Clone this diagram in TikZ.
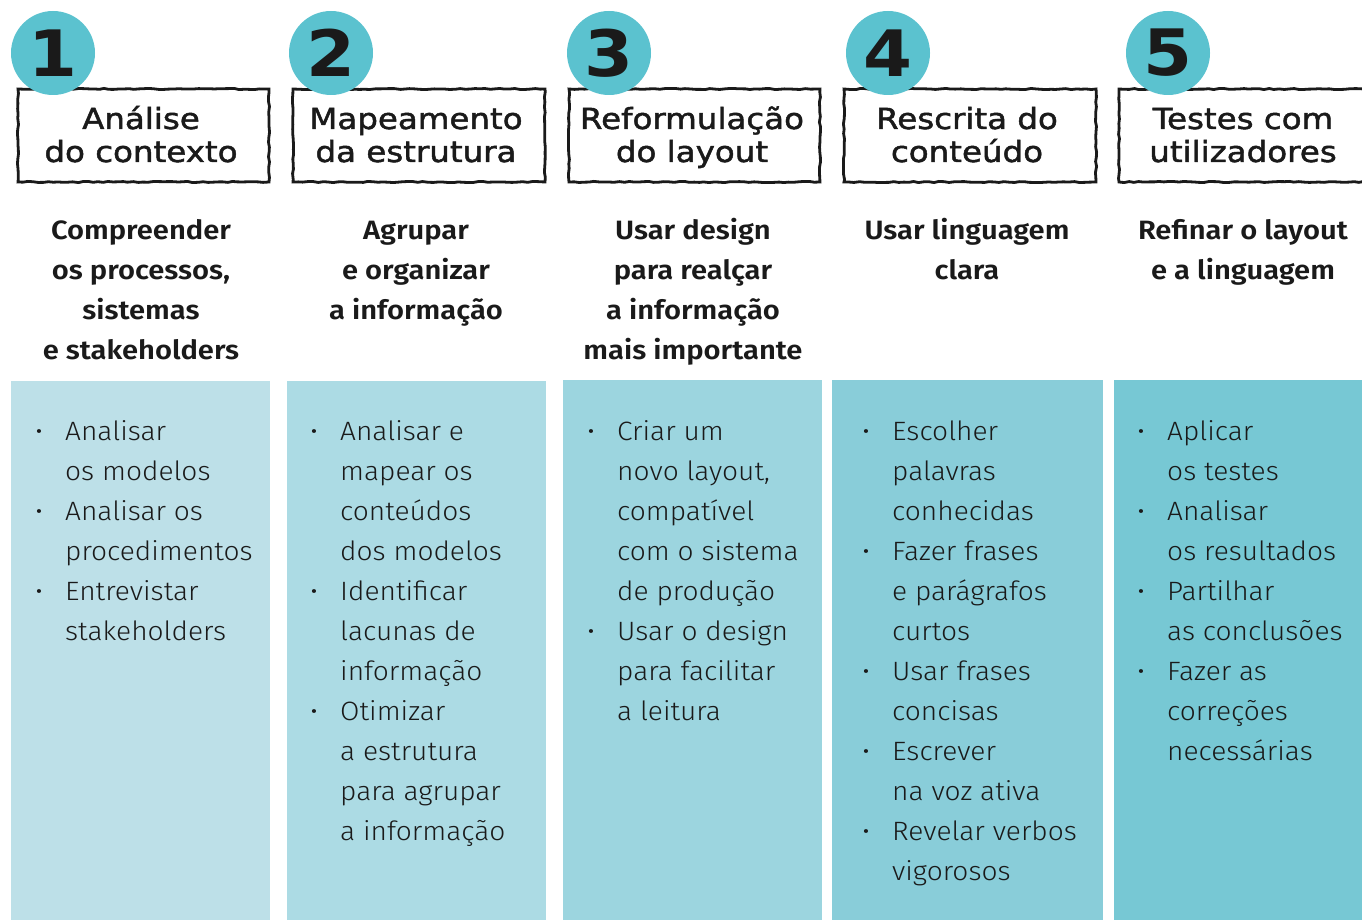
\documentclass[tikz,border=0pt]{standalone}
\usepackage{fontspec}
\usetikzlibrary{decorations.pathmorphing}
\IfFontExistsTF{Fira Sans Light}{\newfontfamily\bodyfont[FakeStretch=1.06]{Fira Sans Light}}{\newfontfamily\bodyfont[FakeStretch=1.06]{Fira Sans}}
\IfFontExistsTF{Fira Sans SemiBold}{\newfontfamily\subfont[FakeStretch=1.1]{Fira Sans SemiBold}}{\newfontfamily\subfontX[FakeStretch=1.1]{Fira Sans}\def\subfont{\subfontX\bfseries}}
\newfontfamily\titlefont[FakeStretch=1.12,FakeBold=1.6]{DejaVu Sans}
\newfontfamily\numfont[FakeStretch=1.1]{DejaVu Sans Bold}
\definecolor{cA}{HTML}{BDE0E8}
\definecolor{cB}{HTML}{ACDBE4}
\definecolor{cC}{HTML}{9CD5DF}
\definecolor{cD}{HTML}{89CDD9}
\definecolor{cE}{HTML}{77C8D4}
\definecolor{circ}{HTML}{5BC2CF}
\definecolor{ink}{HTML}{1A1A1A}
\newcommand\ttlline[4]{\node[titleline] (#1) at (#2,#3) {#4};}
\newcommand\subln[4]{\node[subline] (#1) at (#2,{239+40*#3}) {#4};}
\newcommand\bdyln[4]{\node[bodyline] (#1) at (#2,{440+40*#3}) {#4};}
\newcommand\bdybl[4]{\node[dotline] (#1d) at ({#2-26},{440+40*#3}) {\textbullet};\bdyln{#1}{#2}{#3}{#4}}
\begin{document}
\begin{tikzpicture}[x=1pt,y=-1pt,
  panel/.style={fill=#1, draw=none, inner sep=0},
  numcirc/.style={circle, fill=circ, minimum size=84pt, inner sep=0pt, text=ink, font=\numfont\fontsize{64}{64}\selectfont},
  roughbox/.style={draw=ink, line width=2.8pt, inner sep=0pt, minimum height=93pt, decorate, decoration={random steps, segment length=5pt, amplitude=0.6pt}},
  titleline/.style={font=\titlefont\fontsize{29}{34}\selectfont, anchor=base, inner sep=0pt, text=ink},
  subline/.style={font=\subfont\fontsize{26.5}{40}\selectfont, anchor=base, inner sep=0pt, text=ink},
  bodyline/.style={font=\bodyfont\fontsize{26.5}{40}\selectfont, anchor=base west, inner sep=0pt, text=ink},
  dotline/.style={font=\bodyfont\fontsize{26}{40}\selectfont, anchor=base, inner sep=0pt, text=ink}]
\useasboundingbox (0,0) rectangle (1362,920);
\clip (0,0) rectangle (1362,920);
\fill[white] (0,0) rectangle (1362,920);
% panels
\path[panel=cA] (11,381) rectangle (270,920);
\path[panel=cB] (287,381) rectangle (546,920);
\path[panel=cC] (563,380) rectangle (822,920);
\path[panel=cD] (832,380) rectangle (1103,920);
\path[panel=cE] (1114,380) rectangle (1362,920);
% title boxes
\node[roughbox, minimum width=251pt] (box1) at (143.5,135.5) {};
\node[roughbox, minimum width=252pt] (box2) at (419,135.5) {};
\node[roughbox, minimum width=251pt] (box3) at (694.5,135.5) {};
\node[roughbox, minimum width=252pt] (box4) at (970,135.5) {};
\node[roughbox, minimum width=260pt] (box5) at (1249,135.5) {};
% number circles
\node[numcirc] (n1) at (53,53) {1};
\node[numcirc] (n2) at (331,53) {2};
\node[numcirc] (n3) at (609,53) {3};
\node[numcirc] (n4) at (888,53) {4};
\node[numcirc] (n5) at (1168,53) {5};
% titles
\ttlline{t1a}{141}{129}{Análise}\ttlline{t1b}{141}{162}{do contexto}
\ttlline{t2a}{416}{129}{Mapeamento}\ttlline{t2b}{416}{162}{da estrutura}
\ttlline{t3a}{692}{129}{Reformulação}\ttlline{t3b}{692}{162}{do layout}
\ttlline{t4a}{967}{129}{Rescrita do}\ttlline{t4b}{967}{162}{conteúdo}
\ttlline{t5a}{1243}{129}{Testes com}\ttlline{t5b}{1243}{162}{utilizadores}
% subtitles
\subln{s1a}{141}{0}{Compreender}\subln{s1b}{141}{1}{os processos,}\subln{s1c}{141}{2}{sistemas}\subln{s1d}{141}{3}{e stakeholders}
\subln{s2a}{416}{0}{Agrupar}\subln{s2b}{416}{1}{e organizar}\subln{s2c}{416}{2}{a informação}
\subln{s3a}{693}{0}{Usar design}\subln{s3b}{693}{1}{para realçar}\subln{s3c}{693}{2}{a informação}\subln{s3d}{693}{3}{mais importante}
\subln{s4a}{967}{0}{Usar linguagem}\subln{s4b}{967}{1}{clara}
\subln{s5a}{1243}{0}{Refinar o layout}\subln{s5b}{1243}{1}{e a linguagem}
% column 1
\bdybl{a1}{65}{0}{Analisar}\bdyln{a2}{65}{1}{os modelos}
\bdybl{a3}{65}{2}{Analisar os}\bdyln{a4}{65}{3}{procedimentos}
\bdybl{a5}{65}{4}{Entrevistar}\bdyln{a6}{65}{5}{stakeholders}
% column 2
\bdybl{b1}{340}{0}{Analisar e}\bdyln{b2}{340}{1}{mapear os}\bdyln{b3}{340}{2}{conteúdos}\bdyln{b4}{340}{3}{dos modelos}
\bdybl{b5}{340}{4}{Identificar}\bdyln{b6}{340}{5}{lacunas de}\bdyln{b7}{340}{6}{informação}
\bdybl{b8}{340}{7}{Otimizar}\bdyln{b9}{340}{8}{a estrutura}\bdyln{b10}{340}{9}{para agrupar}\bdyln{b11}{340}{10}{a informação}
% column 3
\bdybl{c1}{617}{0}{Criar um}\bdyln{c2}{617}{1}{novo layout,}\bdyln{c3}{617}{2}{compatível}\bdyln{c4}{617}{3}{com o sistema}\bdyln{c5}{617}{4}{de produção}
\bdybl{c6}{617}{5}{Usar o design}\bdyln{c7}{617}{6}{para facilitar}\bdyln{c8}{617}{7}{a leitura}
% column 4
\bdybl{d1}{892}{0}{Escolher}\bdyln{d2}{892}{1}{palavras}\bdyln{d3}{892}{2}{conhecidas}
\bdybl{d4}{892}{3}{Fazer frases}\bdyln{d5}{892}{4}{e parágrafos}\bdyln{d6}{892}{5}{curtos}
\bdybl{d7}{892}{6}{Usar frases}\bdyln{d8}{892}{7}{concisas}
\bdybl{d9}{892}{8}{Escrever}\bdyln{d10}{892}{9}{na voz ativa}
\bdybl{d11}{892}{10}{Revelar verbos}\bdyln{d12}{892}{11}{vigorosos}
% column 5
\bdybl{e1}{1167}{0}{Aplicar}\bdyln{e2}{1167}{1}{os testes}
\bdybl{e3}{1167}{2}{Analisar}\bdyln{e4}{1167}{3}{os resultados}
\bdybl{e5}{1167}{4}{Partilhar}\bdyln{e6}{1167}{5}{as conclusões}
\bdybl{e7}{1167}{6}{Fazer as}\bdyln{e8}{1167}{7}{correções}\bdyln{e9}{1167}{8}{necessárias}
\end{tikzpicture}
\end{document}
